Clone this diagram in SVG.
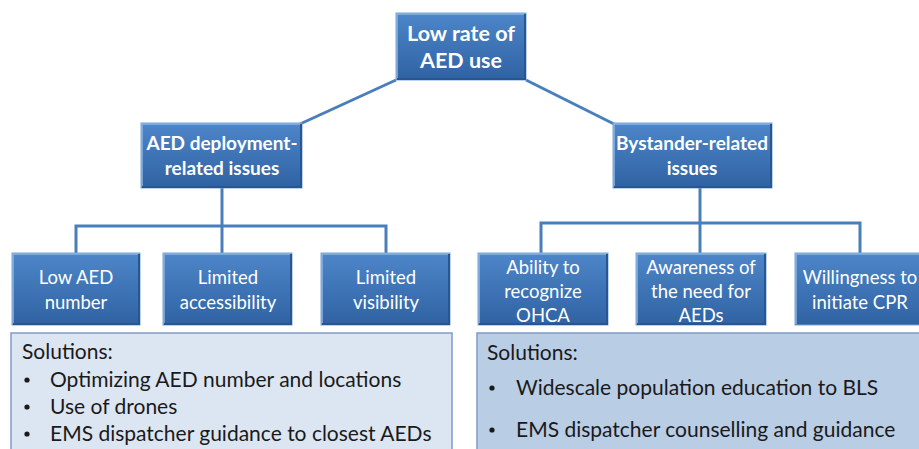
<svg xmlns="http://www.w3.org/2000/svg" width="919" height="449" viewBox="0 0 919 449">
  <defs>
    <linearGradient id="boxFill" x1="0" y1="0" x2="0" y2="1">
      <stop offset="0" stop-color="#4d86c9"/>
      <stop offset="1" stop-color="#2f62a3"/>
    </linearGradient>
    <style>
      .box { fill: url(#boxFill); stroke: #7aa5d8; stroke-width: 1; }
      .bevel { fill: none; stroke: #2a568f; stroke-width: 2; }
      .hi { fill: none; stroke: #8db4e2; stroke-width: 1.5; }
      .wire { fill: none; stroke: #4a7ebb; stroke-width: 3; }
      .tb { font-family: Lato, "Liberation Sans", sans-serif; font-weight: bold; font-size: 19px; fill: #ffffff; text-anchor: middle; }
      .tr { font-size: 21.5px; }
      .t { font-family: Lato, "Liberation Sans", sans-serif; font-size: 18.5px; fill: #ffffff; text-anchor: middle; }
      .sol { font-family: Lato, "Liberation Sans", sans-serif; font-size: 21px; fill: #1a1a1a; }
      .dot { fill: #1a1a1a; }
    </style>
  </defs>

  <rect width="919" height="449" fill="#ffffff"/>

  <!-- connectors -->
  <g id="connectors">
    <polyline class="wire" points="396,80 300,124"/>
    <polyline class="wire" points="526,80 614,124"/>
    <polyline class="wire" points="222,188 222,253"/>
    <polyline class="wire" points="76,253 76,226 386,226 386,253"/>
    <polyline class="wire" points="700,188 700,253"/>
    <polyline class="wire" points="541,253 541,223 860,223 860,253"/>
  </g>

  <!-- level 0 -->
  <g id="node-root">
    <rect class="box" x="396" y="13" width="130" height="67"/>
    <polyline class="hi" points="397,79 397,14 525,14"/>
    <polyline class="bevel" points="525,14 525,79 397,79"/>
    <text class="tb tr" x="461" y="41">Low rate of</text>
    <text class="tb tr" x="461" y="68">AED use</text>
  </g>

  <!-- level 1 -->
  <g id="node-aed">
    <rect class="box" x="141" y="123" width="161" height="65"/>
    <polyline class="hi" points="142,187 142,124 301,124"/>
    <polyline class="bevel" points="301,124 301,187 142,187"/>
    <text class="tb" x="222" y="150">AED deployment-</text>
    <text class="tb" x="222" y="175">related issues</text>
  </g>
  <g id="node-bystander">
    <rect class="box" x="613" y="123" width="159" height="65"/>
    <polyline class="hi" points="614,187 614,124 771,124"/>
    <polyline class="bevel" points="771,124 771,187 614,187"/>
    <text class="tb" x="692" y="150">Bystander-related</text>
    <text class="tb" x="692" y="175">issues</text>
  </g>

  <!-- level 2, deployment side -->
  <g id="node-low-number">
    <rect class="box" x="12" y="253" width="128" height="72"/>
    <polyline class="hi" points="13,324 13,254 139,254"/>
    <polyline class="bevel" points="139,254 139,324 13,324"/>
    <text class="t" x="76" y="284">Low AED</text>
    <text class="t" x="76" y="309">number</text>
  </g>
  <g id="node-accessibility">
    <rect class="box" x="163" y="253" width="129" height="72"/>
    <polyline class="hi" points="164,324 164,254 291,254"/>
    <polyline class="bevel" points="291,254 291,324 164,324"/>
    <text class="t" x="228" y="284">Limited</text>
    <text class="t" x="228" y="309">accessibility</text>
  </g>
  <g id="node-visibility">
    <rect class="box" x="321" y="253" width="129" height="72"/>
    <polyline class="hi" points="322,324 322,254 449,254"/>
    <polyline class="bevel" points="449,254 449,324 322,324"/>
    <text class="t" x="386" y="284">Limited</text>
    <text class="t" x="386" y="309">visibility</text>
  </g>

  <!-- level 2, bystander side -->
  <g id="node-recognize">
    <rect class="box" x="478" y="253" width="130" height="72"/>
    <polyline class="hi" points="479,324 479,254 607,254"/>
    <polyline class="bevel" points="607,254 607,324 479,324"/>
    <text class="t" x="543" y="274">Ability to</text>
    <text class="t" x="543" y="298">recognize</text>
    <text class="t" x="543" y="322">OHCA</text>
  </g>
  <g id="node-awareness">
    <rect class="box" x="636" y="253" width="130" height="72"/>
    <polyline class="hi" points="637,324 637,254 765,254"/>
    <polyline class="bevel" points="765,254 765,324 637,324"/>
    <text class="t" x="701" y="274">Awareness of</text>
    <text class="t" x="701" y="298">the need for</text>
    <text class="t" x="701" y="322">AEDs</text>
  </g>
  <g id="node-willingness">
    <rect class="box" x="795" y="253" width="132" height="72"/>
    <polyline class="hi" points="796,324 796,254 926,254"/>
    <text class="t" x="860" y="284">Willingness to</text>
    <text class="t" x="860" y="309">initiate CPR</text>
  </g>

  <!-- solution panels -->
  <g id="panel-deployment">
    <rect x="11" y="333" width="441" height="125" fill="#dce6f2" stroke="#7f9cc4" stroke-width="1.5"/>
    <text class="sol" x="22" y="359">Solutions:</text>
    <circle class="dot" cx="27" cy="380" r="2.6"/>
    <text class="sol" x="50" y="387">Optimizing AED number and locations</text>
    <circle class="dot" cx="27" cy="407" r="2.6"/>
    <text class="sol" x="50" y="414">Use of drones</text>
    <circle class="dot" cx="27" cy="434" r="2.6"/>
    <text class="sol" x="50" y="441">EMS dispatcher guidance to closest AEDs</text>
  </g>
  <g id="panel-bystander">
    <rect x="477" y="333" width="450" height="125" fill="#b9cde5" stroke="#7f9cc4" stroke-width="1.5"/>
    <text class="sol" x="487" y="360">Solutions:</text>
    <circle class="dot" cx="492" cy="388" r="2.6"/>
    <text class="sol" x="516" y="395">Widescale population education to BLS</text>
    <circle class="dot" cx="492" cy="430" r="2.6"/>
    <text class="sol" x="516" y="437">EMS dispatcher counselling and guidance</text>
  </g>
</svg>
